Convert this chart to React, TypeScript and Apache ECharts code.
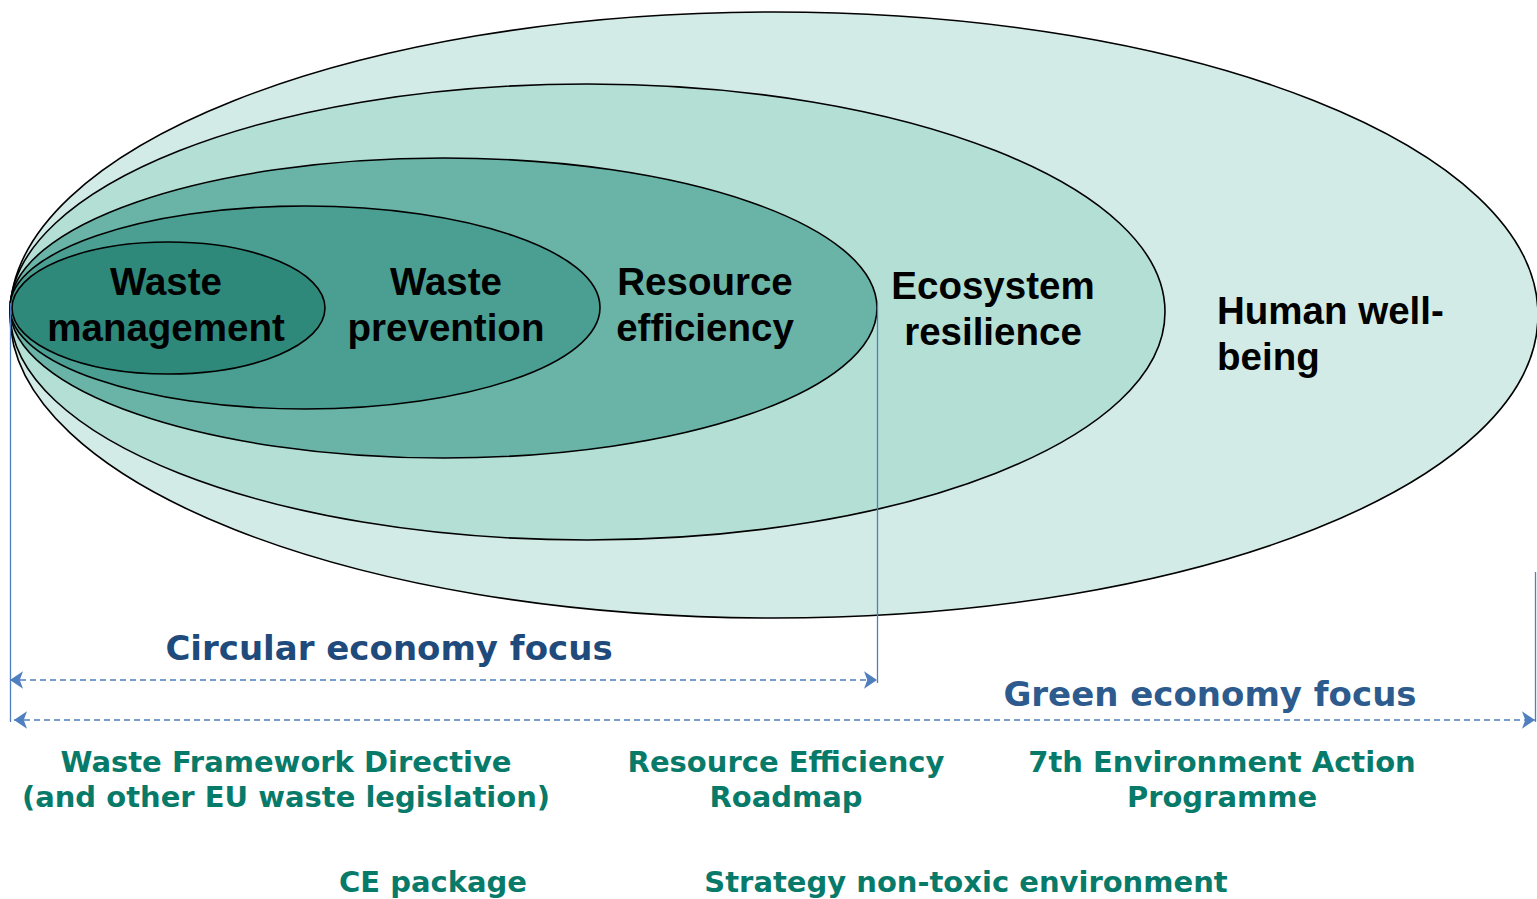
import React, { useEffect, useRef } from "react";
import * as echarts from "echarts";

const W = 1537;
const H = 899;

// Nested ellipses (outermost first): extents in page units
const ellipseNames = ["Human well-being", "Ecosystem resilience", "Resource efficiency", "Waste prevention", "Waste management"];
const ellipseLeft = [10, 10, 10, 10, 12];
const ellipseRight = [1538, 1165, 877, 600, 325];
const ellipseTop = [12, 84, 158, 206, 242];
const ellipseBottom = [618, 540, 458, 409, 374];
const ellipseColors = ["#d3ebe6", "#b4dfd5", "#6ab3a7", "#4a9f92", "#2f897b"];

// Ellipse labels
const ellipseLabels = ["Human well-\nbeing", "Ecosystem\nresilience", "Resource\nefficiency", "Waste\nprevention", "Waste\nmanagement"];
const ellipseLabelX = [1217, 993, 705, 446, 166];
const ellipseLabelY = [333, 308, 304, 304, 304];
const ellipseLabelAlign = ["left", "center", "center", "center", "center"];

// Guide lines
const guideX = [10, 877, 1535];
const guideTop = [303, 303, 572];
const guideBottom = [722, 683, 722];

// Focus arrows
const focusNames = ["Circular economy focus", "Green economy focus"];
const focusStart = [10, 14];
const focusEnd = [877, 1535];
const focusY = [680, 720];
const focusLabelX = [389, 1210];
const focusLabelY = [648, 694];
const focusColors = ["#1f4a7c", "#2d5b8e"];

// Policy labels
const policyLabels = [
  "Waste Framework Directive\n(and other EU waste legislation)",
  "Resource Efficiency\nRoadmap",
  "7th Environment Action\nProgramme",
  "CE package",
  "Strategy non-toxic environment",
];
const policyX = [286, 786, 1222, 433, 966];
const policyY = [779, 779, 779, 882, 882];

export default function App() {
  const ref = useRef<HTMLDivElement>(null);
  useEffect(() => {
    document.body.style.margin = "0";
    document.body.style.overflow = "hidden";
    const chart = echarts.init(ref.current!, undefined, { renderer: "svg" });

    const textSeries = (
      name: string,
      labels: string[],
      xs: number[],
      ys: number[],
      opts: { aligns?: string[]; colors?: string[]; color?: string; fontSize: number; family: string; lineHeight: number }
    ) => ({
      type: "custom",
      name,
      coordinateSystem: "cartesian2d",
      clip: false,
      silent: true,
      data: labels.map((_, i) => [xs[i], ys[i]]),
      renderItem: (params: any, api: any) => {
        const i = params.dataIndex;
        const p = api.coord([api.value(0), api.value(1)]);
        return {
          type: "text",
          x: p[0],
          y: p[1],
          style: {
            text: labels[i],
            fill: opts.colors ? opts.colors[i] : opts.color,
            fontSize: opts.fontSize,
            fontWeight: "bold",
            fontFamily: opts.family,
            align: opts.aligns ? opts.aligns[i] : "center",
            verticalAlign: "middle",
            lineHeight: opts.lineHeight,
          },
        };
      },
    });

    chart.setOption({
      animation: false,
      backgroundColor: "#ffffff",
      grid: { left: 0, right: 0, top: 0, bottom: 0 },
      xAxis: { type: "value", min: 0, max: W, show: false },
      yAxis: { type: "value", min: 0, max: H, inverse: true, show: false },
      series: [
        {
          type: "custom",
          name: "ellipses",
          coordinateSystem: "cartesian2d",
          clip: false,
          silent: true,
          data: ellipseNames.map((_, i) => [ellipseLeft[i], ellipseRight[i], ellipseTop[i], ellipseBottom[i]]),
          renderItem: (params: any, api: any) => {
            const p0 = api.coord([api.value(0), api.value(2)]);
            const p1 = api.coord([api.value(1), api.value(3)]);
            return {
              type: "ellipse",
              shape: {
                cx: (p0[0] + p1[0]) / 2,
                cy: (p0[1] + p1[1]) / 2,
                rx: Math.abs(p1[0] - p0[0]) / 2,
                ry: Math.abs(p1[1] - p0[1]) / 2,
              },
              style: { fill: ellipseColors[params.dataIndex], stroke: "#000000", lineWidth: 1.6 },
            };
          },
        },
        {
          type: "lines",
          name: "guides",
          coordinateSystem: "cartesian2d",
          silent: true,
          symbol: "none",
          lineStyle: { color: "#4f7fbf", width: 1.3, opacity: 1 },
          data: guideX.map((x, i) => ({ coords: [[x, guideTop[i]], [x, guideBottom[i]]] })),
        },
        {
          type: "lines",
          name: "focus",
          coordinateSystem: "cartesian2d",
          silent: true,
          symbol: ["arrow", "arrow"],
          symbolSize: 13,
          lineStyle: { color: "#4f7fbf", width: 1.6, type: [6, 4], opacity: 1 },
          data: focusNames.map((_, i) => ({ coords: [[focusStart[i], focusY[i]], [focusEnd[i], focusY[i]]] })),
        },
        textSeries("ellipseLabels", ellipseLabels, ellipseLabelX, ellipseLabelY, {
          aligns: ellipseLabelAlign,
          color: "#000000",
          fontSize: 38.5,
          family: "Liberation Sans, Arial, sans-serif",
          lineHeight: 46,
        }),
        textSeries("focusLabels", focusNames, focusLabelX, focusLabelY, {
          colors: focusColors,
          fontSize: 34,
          family: "DejaVu Sans, Verdana, sans-serif",
          lineHeight: 38,
        }),
        textSeries("policyLabels", policyLabels, policyX, policyY, {
          color: "#077a69",
          fontSize: 29,
          family: "DejaVu Sans, Verdana, sans-serif",
          lineHeight: 35,
        }),
      ],
    });
    return () => chart.dispose();
  }, []);
  return <div ref={ref} style={{ width: W, height: H }} />;
}
